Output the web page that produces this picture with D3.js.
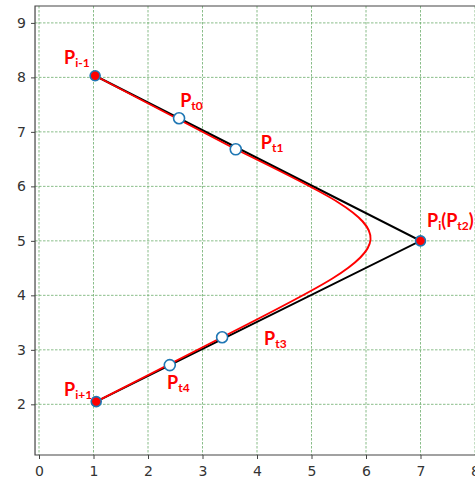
<!DOCTYPE html>
<html>
<head>
<meta charset="utf-8">
<script src="https://d3js.org/d3.v7.min.js"></script>
<style>
body { margin: 0; background: white; }
svg { display: block; }
</style>
</head>
<body>
<svg width="475" height="481"></svg>
<script>
// control polygon P(i-1) -> P(i) -> P(i+1)
const polyX = [1.03, 7.0, 1.05];
const polyY = [8.03, 5.0, 2.05];

// tangent points on the polygon
const tNames = ["t0", "t1", "t3", "t4"];
const tX = [2.57, 3.61, 3.36, 2.40];
const tY = [7.25, 6.68, 3.23, 2.72];

// red smoothed path: start, Pt1, control, control, Pt3, end
const curveX = [1.03, 3.61, 6.95, 6.95, 3.36, 1.05];
const curveY = [8.03, 6.68, 5.05, 5.05, 3.23, 2.05];

const xTicks = [0, 1, 2, 3, 4, 5, 6, 7, 8];
const yTicks = [2, 3, 4, 5, 6, 7, 8, 9];

// labels: main letter, subscript, tail, anchor in data units
const labels = [
  {p: "P", sub: "i-1", tail: "", x: 0.46, y: 8.24},
  {p: "P", sub: "t0", tail: "", x: 2.59, y: 7.45},
  {p: "P", sub: "t1", tail: "", x: 4.07, y: 6.68},
  {p: "P", sub: "i", tail: "(P", sub2: "t2", end: ")", x: 7.12, y: 5.26},
  {p: "P", sub: "t3", tail: "", x: 4.13, y: 3.08},
  {p: "P", sub: "t4", tail: "", x: 2.35, y: 2.28},
  {p: "P", sub: "i+1", tail: "", x: 0.46, y: 2.15}
];

const svg = d3.select("svg");
const x = d3.scaleLinear().domain([0, 8]).range([39, 475]);
const y = d3.scaleLinear().domain([1.07, 9.31]).range([455, 6]);
const pLeft = x(-0.073), pRight = 520, pTop = y(9.31), pBottom = y(1.07);

// grid
const grid = svg.append("g")
  .attr("stroke", "#2e8b2e")
  .attr("stroke-width", 0.8)
  .attr("stroke-dasharray", "2.5,1.5")
  .attr("opacity", 0.7);
grid.selectAll(".gx").data(xTicks).enter().append("line")
  .attr("x1", d => x(d)).attr("x2", d => x(d))
  .attr("y1", pTop).attr("y2", pBottom);
grid.selectAll(".gy").data(yTicks).enter().append("line")
  .attr("x1", pLeft).attr("x2", pRight)
  .attr("y1", d => y(d)).attr("y2", d => y(d));

// axes
const xAxis = svg.append("g")
  .attr("transform", `translate(0,${pBottom})`)
  .call(d3.axisBottom(x).tickValues(xTicks).tickSize(4).tickPadding(7).tickFormat(d3.format("d")));
const yAxis = svg.append("g")
  .attr("transform", `translate(${pLeft},0)`)
  .call(d3.axisLeft(y).tickValues(yTicks).tickSize(4).tickPadding(5).tickFormat(d3.format("d")));
[xAxis, yAxis].forEach(a => {
  a.select(".domain").remove();
  a.selectAll(".tick line").attr("stroke", "#444").attr("stroke-width", 1);
  a.selectAll(".tick text")
    .attr("fill", "#333")
    .style("font-family", "DejaVu Sans")
    .style("font-size", "14px");
});

// frame (left, bottom, top)
svg.append("path")
  .attr("d", `M${pRight},${pTop}H${pLeft}V${pBottom}H${pRight}`)
  .attr("fill", "none")
  .attr("stroke", "#444")
  .attr("stroke-width", 1.2);

// black polygon
const polyPts = polyX.map((v, i) => [x(v), y(polyY[i])]);
svg.append("path")
  .attr("d", d3.line()(polyPts))
  .attr("fill", "none")
  .attr("stroke", "black")
  .attr("stroke-width", 2);

// red curve
const c = curveX.map((v, i) => [x(v), y(curveY[i])]);
const path = d3.path();
path.moveTo(c[0][0], c[0][1]);
path.lineTo(c[1][0], c[1][1]);
path.bezierCurveTo(c[2][0], c[2][1], c[3][0], c[3][1], c[4][0], c[4][1]);
path.lineTo(c[5][0], c[5][1]);
svg.append("path")
  .attr("d", path.toString())
  .attr("fill", "none")
  .attr("stroke", "#ff0000")
  .attr("stroke-width", 1.8);

// polygon vertices
svg.selectAll(".pv").data(polyPts).enter().append("circle")
  .attr("cx", d => d[0]).attr("cy", d => d[1])
  .attr("r", 5)
  .attr("fill", "#ff0000")
  .attr("stroke", "#1f77b4")
  .attr("stroke-width", 1.6);

// tangent points
svg.selectAll(".tp").data(tX).enter().append("circle")
  .attr("cx", d => x(d)).attr("cy", (d, i) => y(tY[i]))
  .attr("r", 5.5)
  .attr("fill", "white")
  .attr("stroke", "#1f77b4")
  .attr("stroke-width", 1.6);

// labels
const lab = svg.selectAll(".lab").data(labels).enter().append("text")
  .attr("x", d => x(d.x)).attr("y", d => y(d.y))
  .attr("fill", "#ff0000")
  .style("font-family", "Lato, 'Open Sans', sans-serif")
  .style("font-weight", "bold")
  .style("font-size", "18px");
lab.append("tspan").text(d => d.p);
lab.append("tspan").attr("dy", 3).style("font-size", "12px").text(d => d.sub);
lab.filter(d => d.sub2).append("tspan").attr("dy", -3).text(d => d.tail);
lab.filter(d => d.sub2).append("tspan").attr("dy", 3).style("font-size", "12px").text(d => d.sub2);
lab.filter(d => d.sub2).append("tspan").attr("dy", -3).text(d => d.end);
</script>
</body>
</html>
